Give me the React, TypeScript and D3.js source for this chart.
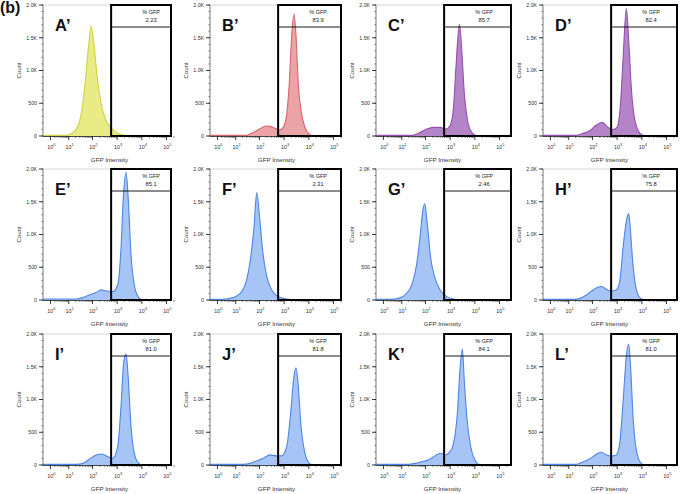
import React from "react";
import * as d3 from "d3";

// ---------- data ----------
const panelLabels = ["A’", "B’", "C’", "D’", "E’", "F’", "G’", "H’", "I’", "J’", "K’", "L’"];
const gfpPercent = ["2.23", "83.9", "85.7", "82.4", "85.1", "2.31", "2.46", "75.8", "81.0", "81.8", "84.1", "81.0"];
const yTicks = [0, 500, 1000, 1500, 2000];
const yTickLabels = ["0", "500", "1.0K", "1.5K", "2.0K"];
const xDecades = [0, 1, 2, 3, 4, 5];
const gateMin = 570;

// [GFP intensity, count]
const histA: [number, number][] = [[0, 8], [6, 10], [12, 30], [23, 130], [37, 410], [50, 820], [69, 1380], [87, 1680], [112, 1430], [153, 920], [208, 565], [331, 260], [580, 130], [990, 45], [1840, 10], [4000, 0]];
const histB: [number, number][] = [[0, 10], [29, 10], [48, 45], [77, 80], [123, 127], [184, 152], [267, 147], [426, 117], [636, 91], [925, 132], [1270, 335], [1620, 818], [2020, 1530], [2510, 1860], [3025, 1530], [3780, 767], [5100, 335], [6980, 132], [10400, 30], [14800, 0]];
const histC: [number, number][] = [[0, 10], [30, 10], [59, 55], [112, 107], [208, 132], [390, 132], [680, 107], [990, 157], [1350, 410], [1730, 1070], [2360, 1705], [2940, 1325], [3640, 716], [4950, 260], [7460, 55], [11800, 0]];
const histD: [number, number][] = [[0, 10], [21, 10], [41, 40], [77, 80], [143, 168], [250, 208], [426, 132], [680, 97], [990, 132], [1350, 460], [1730, 1170], [2360, 1945], [3025, 1375], [3780, 716], [5100, 260], [8200, 45], [12900, 0]];
const histE: [number, number][] = [[0, 15], [21, 15], [40, 36], [74, 77], [139, 113], [222, 154], [355, 139], [660, 128], [1050, 230], [1435, 795], [1780, 1565], [2300, 1950], [2850, 1510], [3640, 690], [4950, 230], [7460, 36], [10800, 0]];
const histF: [number, number][] = [[0, 10], [2.5, 10], [5.4, 25], [11, 62], [18, 128], [29.5, 308], [43, 641], [59, 1100], [77, 1640], [98, 1308], [135, 744], [197, 359], [314, 154], [580, 51], [1270, 15], [3240, 0]];
const histG: [number, number][] = [[0, 10], [2.7, 10], [7, 25], [16.5, 103], [27, 231], [43, 539], [59, 950], [77, 1360], [93, 1470], [118, 1155], [162, 641], [244, 333], [390, 154], [725, 51], [1570, 10], [4700, 0]];
const histH: [number, number][] = [[0, 10], [20, 10], [29.5, 25], [56, 77], [105, 154], [157, 190], [230, 205], [365, 164], [580, 139], [925, 154], [1270, 282], [1730, 795], [2360, 1205], [2940, 1318], [3400, 1100], [4150, 641], [5500, 230], [8200, 36], [12900, 0]];
const histI: [number, number][] = [[0, 10], [21, 10], [40, 25], [74, 87], [139, 154], [244, 169], [415, 128], [660, 103], [1050, 282], [1435, 898], [1840, 1565], [2300, 1693], [2780, 1360], [3640, 590], [4950, 180], [7460, 25], [10800, 0]];
const histJ: [number, number][] = [[0, 10], [21, 10], [41, 25], [77, 62], [143, 103], [267, 154], [500, 139], [790, 139], [1270, 282], [1840, 795], [2510, 1360], [3025, 1485], [3640, 1257], [4700, 641], [6500, 230], [10400, 25], [14800, 0]];
const histK: [number, number][] = [[0, 10], [20, 10], [37, 25], [70, 51], [130, 77], [244, 139], [390, 180], [620, 154], [990, 205], [1270, 282], [1960, 795], [2510, 1460], [3120, 1770], [3780, 1257], [4700, 744], [6780, 282], [10000, 77], [16000, 0]];
const histL: [number, number][] = [[0, 10], [20, 10], [29.5, 25], [56, 67], [105, 128], [167, 180], [230, 195], [365, 154], [580, 139], [925, 154], [1270, 333], [1730, 950], [2360, 1667], [2940, 1847], [3540, 1462], [4390, 744], [5960, 230], [9400, 25], [14000, 0]];
const histograms = [histA, histB, histC, histD, histE, histF, histG, histH, histI, histJ, histK, histL];

// ---------- styles ----------
const palette: Record<string, { fill: string; stroke: string }> = {
  yellow: { fill: "#e8eb86", stroke: "#cfd246" },
  red: { fill: "#eaa4a6", stroke: "#d8656b" },
  purple: { fill: "#b583c8", stroke: "#9350ad" },
  blue: { fill: "#a6c4f5", stroke: "#4d85e6" },
};
const panelColor = ["yellow", "red", "purple", "purple", "blue", "blue", "blue", "blue", "blue", "blue", "blue", "blue"];
const colX = [43, 210, 376, 543];
const colRight = [171, 341, 511, 677];
const rowTop = [5, 169, 334];
const plotH = 131;
const scaleW = 131;
const FONT = "'Liberation Sans', Arial, sans-serif";

function Panel({ idx }: { idx: number }) {
  const col = idx % 4;
  const row = Math.floor(idx / 4);
  const x0 = colX[col];
  const top = rowTop[row];
  const base = top + plotH;
  const right = colRight[col];
  const x = d3.scaleSymlog().constant(1).domain([0, 200000]).range([x0, x0 + scaleW]);
  const y = d3.scaleLinear().domain([0, 2000]).range([base, top]);
  const data = histograms[idx];
  const col2 = palette[panelColor[idx]];
  const area = d3
    .area<[number, number]>()
    .x((d) => x(d[0]))
    .y0(base)
    .y1((d) => y(d[1]))
    .curve(d3.curveMonotoneX);
  const line = d3
    .line<[number, number]>()
    .x((d) => x(d[0]))
    .y((d) => y(d[1]))
    .curve(d3.curveMonotoneX);

  const minorX: number[] = [];
  for (let k = 0; k <= 5; k++) {
    for (let m = 2; m <= 9; m++) {
      const v = m * Math.pow(10, k);
      if (v <= 200000) minorX.push(v);
    }
  }
  const minorY = d3.range(0, 2001, 100);
  const gx = x(gateMin);

  return (
    <g>
      {/* frame */}
      <rect x={x0} y={top} width={right - x0} height={plotH} fill="none" stroke="#d6d6d6" strokeWidth={1} />
      {/* histogram */}
      <path d={area(data) || ""} fill={col2.fill} />
      <path d={line(data) || ""} fill="none" stroke={col2.stroke} strokeWidth={1.1} />
      {/* y axis */}
      <line x1={x0} x2={x0} y1={top} y2={base} stroke="#777" strokeWidth={0.8} />
      {minorY.map((v) => (
        <line key={"my" + v} x1={x0 - 1.5} x2={x0} y1={y(v)} y2={y(v)} stroke="#333" strokeWidth={0.6} />
      ))}
      {yTicks.map((v, i) => (
        <g key={"yt" + v}>
          <line x1={x0 - 4} x2={x0} y1={y(v)} y2={y(v)} stroke="#222" strokeWidth={0.9} />
          <text x={x0 - 6} y={y(v) + 1.8} fontSize={5.2} fontFamily={FONT} textAnchor="end" fill="#333">
            {yTickLabels[i]}
          </text>
        </g>
      ))}
      <text
        transform={`translate(${x0 - 22},${(top + base) / 2}) rotate(-90)`}
        fontSize={6}
        fontFamily={FONT}
        textAnchor="middle"
        fill="#333"
      >
        Count
      </text>
      {/* x axis */}
      <line x1={x0} x2={right} y1={base + 0.5} y2={base + 0.5} stroke="#333" strokeWidth={0.9} />
      {minorX.map((v) => (
        <line key={"mx" + v} x1={x(v)} x2={x(v)} y1={base} y2={base + 2} stroke="#333" strokeWidth={0.6} />
      ))}
      {xDecades.map((k) => (
        <g key={"xt" + k}>
          <line x1={x(Math.pow(10, k))} x2={x(Math.pow(10, k))} y1={base} y2={base + 4} stroke="#222" strokeWidth={0.9} />
          <text x={x(Math.pow(10, k)) - 3.2} y={base + 12.5} fontSize={5.4} fontFamily={FONT} fill="#333">
            10
            <tspan fontSize={4} dy={-2.4}>
              {k}
            </tspan>
          </text>
        </g>
      ))}
      <text x={x0 + 66.5} y={base + 25.5} fontSize={6.2} fontFamily={FONT} textAnchor="middle" fill="#333">
        GFP Intensity
      </text>
      {/* gate */}
      <rect x={gx} y={top} width={right - gx} height={plotH} fill="none" stroke="#000" strokeWidth={2} />
      <line x1={gx} x2={right} y1={top + 22} y2={top + 22} stroke="#000" strokeWidth={0.9} />
      <text x={gx + 40} y={top + 9} fontSize={5.5} fontFamily={FONT} textAnchor="middle" fill="#222">
        % GFP
      </text>
      <text x={gx + 40} y={top + 16.8} fontSize={5.8} fontFamily={FONT} textAnchor="middle" fill="#222">
        {gfpPercent[idx]}
      </text>
      {/* panel label */}
      <text x={x0 + 12} y={top + 26} fontSize={16.5} fontWeight="bold" fontFamily={FONT} fill="#111">
        {panelLabels[idx]}
      </text>
    </g>
  );
}

export default function App() {
  return (
    <svg
      width={682}
      height={494}
      viewBox="0 0 682 494"
      style={{ position: "absolute", left: 0, top: 0, background: "#fff" }}
    >
      <rect x={0} y={0} width={682} height={494} fill="#fff" />
      {histograms.map((_, i) => (
        <Panel key={i} idx={i} />
      ))}
      <text x={0} y={13} fontSize={16} fontWeight="bold" fontFamily={FONT} fill="#111">
        (b)
      </text>
    </svg>
  );
}
